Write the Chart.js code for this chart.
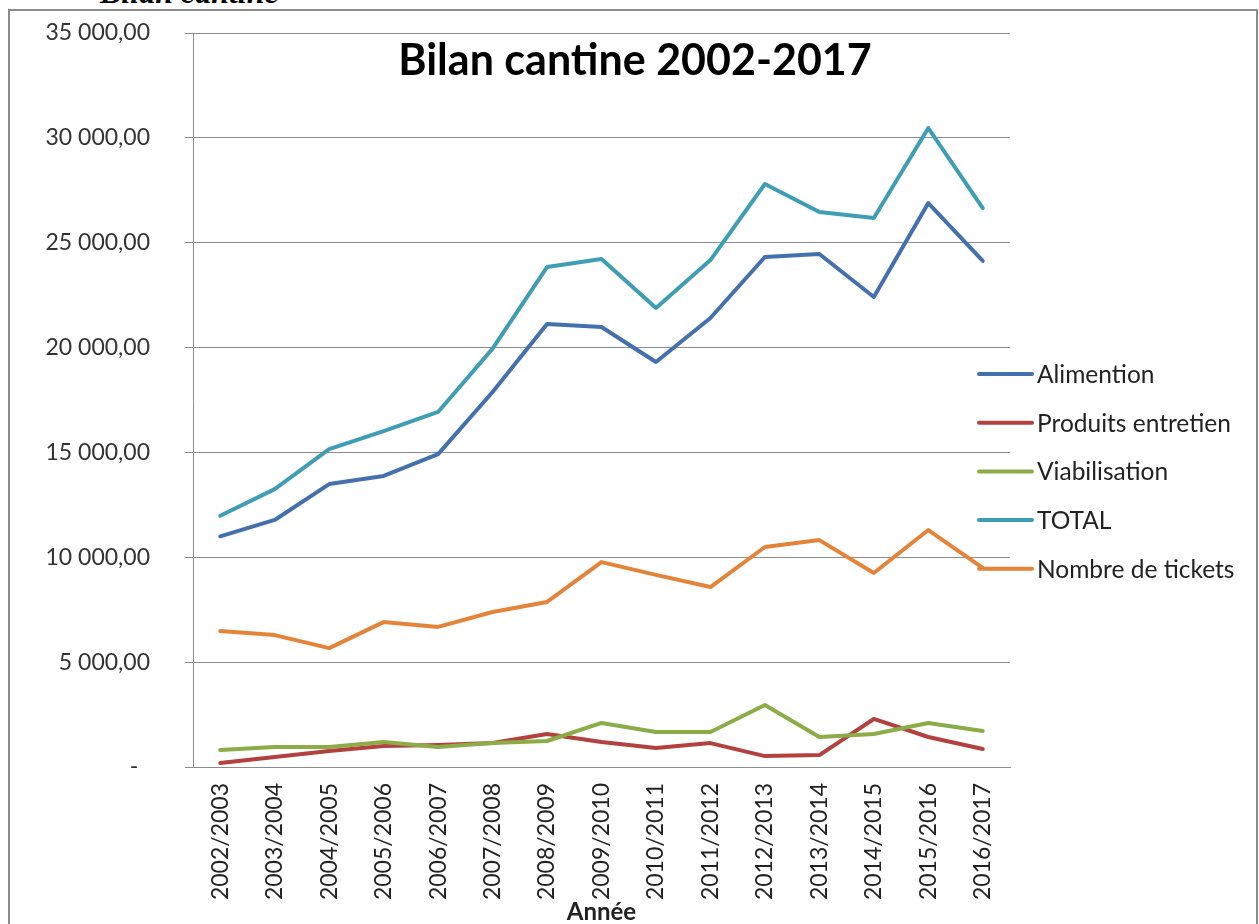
<!DOCTYPE html>
<html><head><meta charset="utf-8">
<script src="https://cdn.jsdelivr.net/npm/chart.js@4.4.1/dist/chart.umd.min.js"></script>
<style>
html,body{margin:0;padding:0;background:#fff;overflow:hidden;width:1259px;height:924px;}
#doc{position:absolute;left:100px;top:-24px;font:italic bold 32px "Liberation Serif";line-height:32px;color:#000;white-space:nowrap;}
#frame{position:absolute;left:8px;top:9px;width:1250px;height:960px;border:2px solid #8c8c8c;box-sizing:border-box;}
canvas{position:absolute;left:0;top:0;}
</style></head><body>
<div id="doc">Bilan cantine</div>
<div id="frame"></div>
<canvas id="c" width="1259" height="924"></canvas>
<script>
const categories = ['2002/2003','2003/2004','2004/2005','2005/2006','2006/2007','2007/2008','2008/2009','2009/2010','2010/2011','2011/2012','2012/2013','2013/2014','2014/2015','2015/2016','2016/2017'];
const alimention    = [11000, 11780, 13490, 13880, 14920, 17880, 21120, 20980, 19310, 21410, 24320, 24460, 22410, 26890, 24130];
const produits      = [190, 480, 760, 1000, 1050, 1140, 1570, 1190, 910, 1140, 520, 570, 2290, 1430, 860];
const viabilisation = [810, 950, 950, 1190, 950, 1140, 1240, 2100, 1670, 1670, 2960, 1430, 1570, 2100, 1720];
const total         = [11980, 13250, 15160, 16020, 16930, 19950, 23840, 24220, 21890, 24170, 27800, 26460, 26180, 30470, 26650];
const tickets       = [6480, 6290, 5670, 6910, 6680, 7390, 7870, 9770, 9160, 8580, 10490, 10820, 9250, 11300, 9490];
const seriesNames   = ['Alimention','Produits entretien','Viabilisation','TOTAL','Nombre de tickets'];
const yTickValues   = [0, 5000, 10000, 15000, 20000, 25000, 30000, 35000];
const yTickLabels   = ['-  ', '5 000,00', '10 000,00', '15 000,00', '20 000,00', '25 000,00', '30 000,00', '35 000,00'];
const chartTitle = 'Bilan cantine 2002-2017';
const xTitle = 'Année';

const colors = ['#4470ad', '#b3413f', '#8bac46', '#3f9db5', '#e3843a'];
const seriesData = [alimention, produits, viabilisation, total, tickets];

const overlay = {
  id: 'overlay',
  afterDraw(chart) {
    const ctx = chart.ctx;
    ctx.save();
    ctx.font = 'bold 43px Lato';
    ctx.fillStyle = '#000';
    ctx.textAlign = 'center';
    ctx.textBaseline = 'alphabetic';
    ctx.fillText(chartTitle, 635, 75);
    ctx.font = '24.5px Lato';
    ctx.textAlign = 'left';
    ctx.textBaseline = 'middle';
    chart.data.datasets.forEach((ds, i) => {
      const y = 374 + i * 48.7;
      ctx.strokeStyle = ds.borderColor;
      ctx.lineWidth = 4;
      ctx.lineCap = 'round';
      ctx.beginPath();
      ctx.moveTo(979, y);
      ctx.lineTo(1032, y);
      ctx.stroke();
      ctx.fillStyle = '#222';
      ctx.fillText(ds.label, 1037, y + 1);
    });
    ctx.restore();
  }
};

new Chart(document.getElementById('c'), {
  type: 'line',
  data: {
    labels: categories,
    datasets: seriesNames.map((n, i) => ({
      label: n,
      data: seriesData[i],
      borderColor: colors[i],
      backgroundColor: colors[i],
      borderWidth: 4,
      pointRadius: 0,
      tension: 0,
      borderCapStyle: 'round',
      borderJoinStyle: 'round',
      order: 5 - i
    }))
  },
  options: {
    responsive: false,
    animation: false,
    devicePixelRatio: 1,
    layout: { padding: { left: 0, top: 33, right: 249, bottom: 0 } },
    plugins: { legend: { display: false }, title: { display: false }, tooltip: { enabled: false } },
    scales: {
      x: {
        offset: true,
        grid: { display: false, drawTicks: false },
        border: { display: true, color: '#8c8c8c', width: 1 },
        ticks: { minRotation: 90, maxRotation: 90, padding: 16, color: '#222', font: { family: 'Lato', size: 23 }, autoSkip: false },
        title: { display: true, text: xTitle, color: '#222', font: { family: 'Lato', size: 24, weight: 'bold', lineHeight: 1 }, padding: { top: 0, bottom: 0 } },
        afterFit(s) { s.height = 157; s.paddingLeft = 0; s.paddingRight = 0; s.paddingTop = 0; s.paddingBottom = 0; }
      },
      y: {
        min: 0, max: 35000,
        afterBuildTicks(s) { s.ticks = yTickValues.map(v => ({ value: v })); },
        grid: { color: '#8c8c8c', lineWidth: 1, drawTicks: true, tickLength: 8 },
        border: { display: true, color: '#8c8c8c', width: 1 },
        ticks: {
          padding: 35, color: '#333', font: { family: 'Lato', size: 23 },
          callback: (v) => { const k = yTickValues.indexOf(v); return k >= 0 ? yTickLabels[k] : ''; }
        },
        afterFit(s) { s.width = 193; s.paddingLeft = 0; s.paddingRight = 0; s.paddingTop = 0; s.paddingBottom = 0; }
      }
    }
  },
  plugins: [overlay]
});
</script>
</body></html>
